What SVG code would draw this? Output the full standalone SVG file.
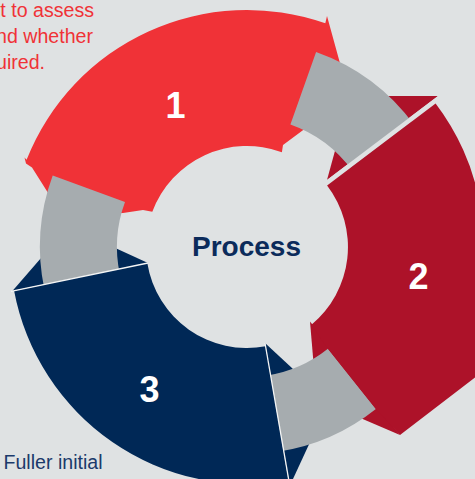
<svg xmlns="http://www.w3.org/2000/svg" width="475" height="479" viewBox="0 0 475 479">
<style>
.red{fill:#F03237}
.dred{fill:#AD1229}
.navy{fill:#002856}
.gray{fill:#A6ACAF}
.num{font-family:"Liberation Sans",Arial,sans-serif;font-weight:bold;font-size:36px;fill:#FFFFFF;text-anchor:middle}
.note{font-family:"Liberation Sans",Arial,sans-serif;font-size:19.6px}
.cut{stroke:#F4F5F5;stroke-width:1.3;fill:none}
</style>
<rect width="475" height="479" fill="#DFE2E3"/>
<g id="note-top" class="note" fill="#F03237" text-anchor="end">
<text x="94" y="17">t to assess</text>
<text x="93" y="43">nd whether</text>
<text x="45" y="69">uired.</text>
</g>
<g id="note-bottom" class="note" fill="#1B3A6B">
<text x="3.5" y="469.3">Fuller initial</text>
</g>
<g id="step-1">
<path class="red" d="M26.6,159.8 A237,237 0 0 1 325.3,23.3 L327,16 L349,96 L283,145 L281.9,152.2 A101,101 0 0 0 152.3,211.8 L143,210 L123,213 L62,215 L32,167.5 L26,163.5 L24.5,157.5 Z"/>
<text class="num" x="175.5" y="117.5">1</text>
</g>
<g id="arrowheads">
<path class="dred" d="M438,96 L350,96 L327,180 Z"/>
<path class="dred" d="M310,321.5 L316.6,399.3 L400,435 Z"/>
<path class="navy" d="M265,343 L328.6,402 L289.6,486.3 Z"/>
<path class="navy" d="M148,263 L68.4,226.4 L12.4,291.1 Z"/>
</g>
<g id="connectors">
<path class="gray" d="M316.1,51.9 A207,207 0 0 1 414.5,125.3 L352.2,170.6 A130,130 0 0 0 290.4,124.5 Z"/>
<path class="gray" d="M375.9,409 A207,207 0 0 1 279.4,451.5 L267.3,375.4 A130,130 0 0 0 327.9,348.7 Z"/>
<path class="gray" d="M44.5,290 A207,207 0 0 1 52.7,175.5 L125,202.1 A130,130 0 0 0 119.8,274 Z"/>
</g>
<g id="step-2">
<path d="M445.7,93 L322,186.6" stroke="#DFE2E3" stroke-width="4.6" fill="none"/>
<path class="dred" d="M327.1,185.5 L435.6,103.5 A237,237 0 0 1 475.9,308.3 L481,310 L481,373 L400,435 L375.9,409 L327.9,348.7 L311.2,324.9 A101,101 0 0 0 327.1,185.5 Z"/>
<text class="num" x="418.5" y="289">2</text>
</g>
<g id="step-3">
<path class="navy" d="M265.6,346.3 L288.5,480.3 A237,237 0 0 1 14.1,290.8 L147.3,263.1 A101,101 0 0 0 265.6,346.3 Z"/>
<path class="cut" d="M265,343 L290,487"/>
<path class="cut" d="M148,263 L11,291.4"/>
<text class="num" x="149.5" y="401.5">3</text>
</g>
<g id="center">
<text x="246.5" y="256" font-family="'Liberation Sans',Arial,sans-serif" font-weight="bold" font-size="28" fill="#0B2B5B" text-anchor="middle">Process</text>
</g>
</svg>
